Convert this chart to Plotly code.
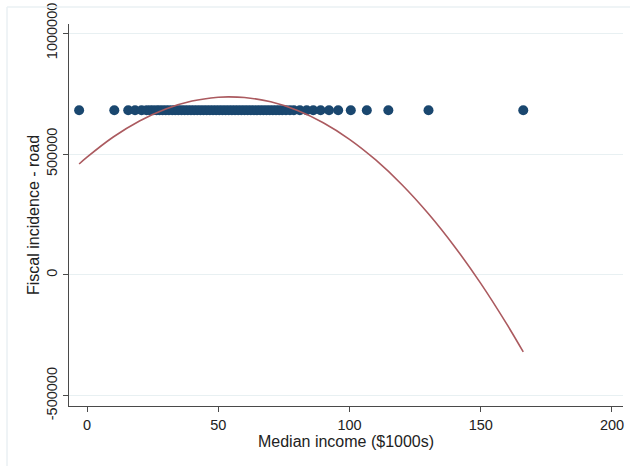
import plotly.graph_objects as go

# Scatter data: median income ($1000s) and fiscal incidence - road
income = [-3.0, 10.4, 15.7, 18.3, 20.8, 22.7, 24.0, 25.2, 26.5, 27.6, 28.8, 30.0,
          31.2, 32.5, 33.6, 34.8, 36.0, 37.2, 38.4, 39.6, 40.8, 42.0, 43.2, 44.4,
          45.6, 46.8, 48.0, 49.2, 50.4, 51.6, 52.8, 54.0, 55.2, 56.4, 57.6, 58.8,
          60.0, 61.2, 62.4, 63.6, 64.8, 66.0, 67.2, 68.4, 69.6, 70.8, 72.0, 73.2,
          74.4, 75.8, 77.3, 78.8, 81.1, 83.7, 86.2, 89.0, 92.2, 95.7, 100.5,
          106.6, 114.8, 130.1, 166.2]
incidence = [681000] * len(income)

# Fitted quadratic line
fit_x = [-3, 0, 10, 20, 30, 40, 50, 54, 60, 70, 80, 90, 100, 110, 120, 130,
         140, 150, 160, 166.2]
fit_y = [458600, 486900, 570300, 636700, 686300, 719000, 734900, 736500,
         733800, 715900, 681100, 629400, 560900, 475400, 373100, 253900,
         117800, -35100, -204900, -318700]

x_ticks = [0, 50, 100, 150, 200]
y_ticks = [-500000, 0, 500000, 1000000]

fig = go.Figure()
fig.add_trace(go.Scatter(x=income, y=incidence, mode="markers",
                         marker=dict(color="#1a476f", size=10, line=dict(width=0)),
                         showlegend=False))
fig.add_trace(go.Scatter(x=fit_x, y=fit_y, mode="lines", line_shape="spline",
                         line=dict(color="#ab5a5f", width=1.6), showlegend=False))

fam = "Liberation Sans, Arial, sans-serif"
tick_font = dict(family=fam, size=14.5, color="#222")
title_font = dict(family=fam, size=16, color="#222")

fig.update_layout(
    width=630, height=466,
    margin=dict(l=69, r=7, t=24, b=60.3),
    paper_bgcolor="white", plot_bgcolor="white",
    font=tick_font,
    xaxis=dict(range=[-6.86, 204.2], tickvals=x_ticks, showgrid=False, zeroline=False,
               automargin=False,
               showline=True, linecolor="#4a4a4a", linewidth=1.3,
               ticks="outside", ticklen=5, tickcolor="#4a4a4a", tickwidth=1,
               title=dict(text="Median income ($1000s)", standoff=0, font=title_font),
               tickfont=tick_font),
    yaxis=dict(range=[-542200, 1037700], tickvals=y_ticks, ticktext=[str(v) for v in y_ticks],
               automargin=False,
               showgrid=True, gridcolor="#e8f0f2", gridwidth=1, zeroline=False,
               showline=True, linecolor="#4a4a4a", linewidth=1.3,
               ticks="outside", ticklen=5, tickcolor="#4a4a4a", tickwidth=1,
               tickangle=-90,
               title=dict(text="Fiscal incidence - road", standoff=0, font=title_font),
               tickfont=tick_font),
    shapes=[
        dict(type="line", xref="paper", yref="paper", x0=-0.1119, x1=-0.1119,
             y0=-0.2, y1=1.0445, line=dict(color="#eaf0f3", width=1.5)),
        dict(type="line", xref="paper", yref="paper", x0=-0.1119, x1=1.02,
             y0=1.0445, y1=1.0445, line=dict(color="#eaf0f3", width=1.5)),
    ],
)

fig.write_html("out.html", config={"displayModeBar": False},
               post_script="document.body.style.margin='0';document.body.style.overflow='hidden';")
